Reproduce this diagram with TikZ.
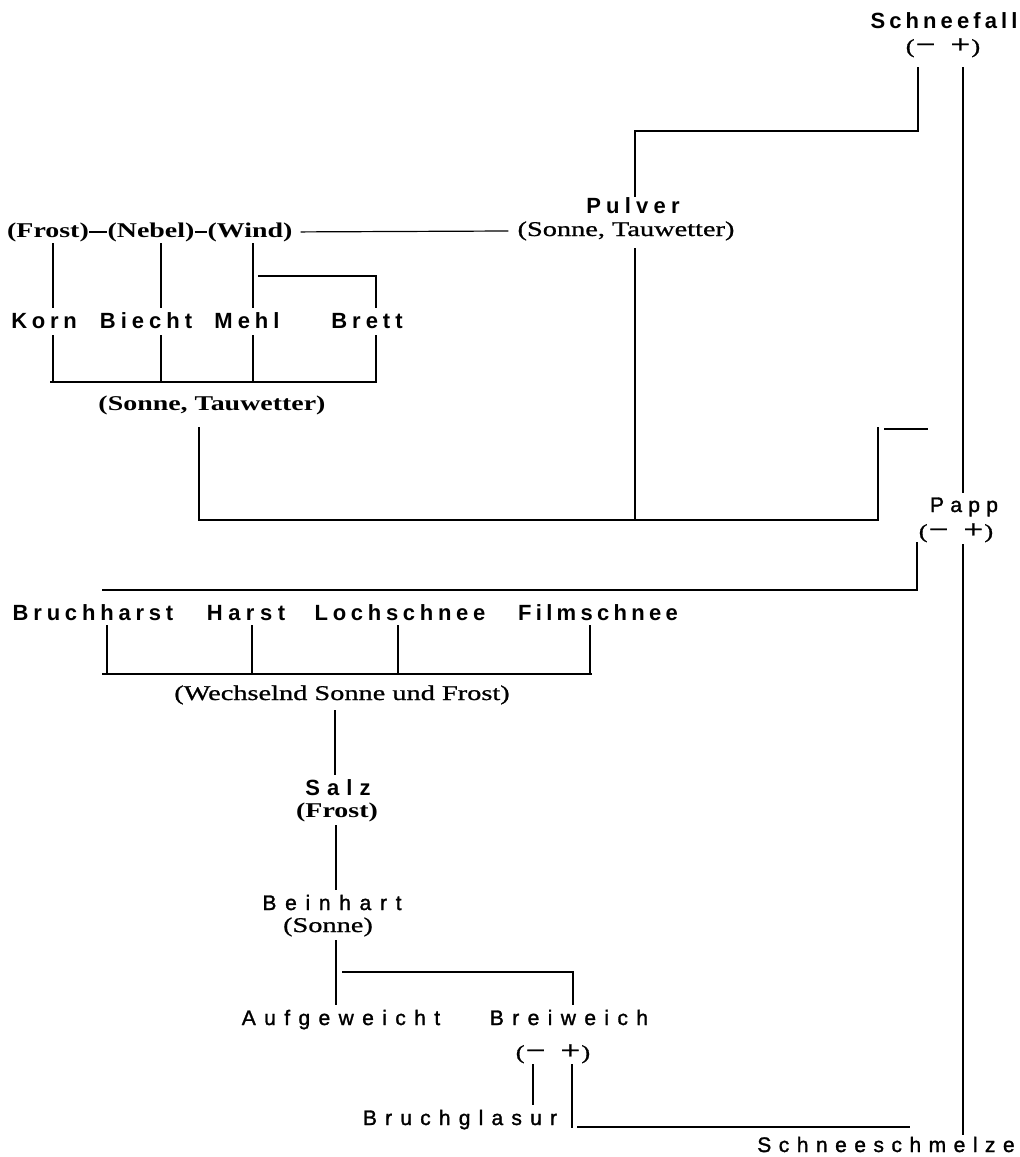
\documentclass[tikz,border=0pt]{standalone}
\usepackage{fontspec}
\setmainfont{Liberation Serif}
\newfontfamily\grot{Liberation Sans}
\newfontfamily\grotm[FakeBold=1.4]{Liberation Sans}
\newfontfamily\serifw[FakeStretch=1.35,FakeBold=0.9]{Liberation Serif}
\newfontfamily\serifb[FakeStretch=1.33]{Liberation Serif Bold}
\usetikzlibrary{calc}
\newlength\lsp
\def\spc#1#2{\setlength\lsp{#1}\spcB#2\relax}
\def\spcB#1{#1\spcA}
\def\spcA#1{\ifx#1\relax\else\kern\lsp#1\expandafter\spcA\fi}
\newcommand\mpm{{\fontsize{20}{20}\selectfont(}\kern1pt{\fontsize{26}{26}\selectfont −\kern15pt+}\kern1pt{\fontsize{20}{20}\selectfont)}}
\begin{document}
\begin{tikzpicture}[x=1pt,y=-1pt,
  gb/.style={font=\grot\bfseries\fontsize{22}{22}\selectfont, inner sep=0pt, anchor=base},
  gr/.style={font=\grotm\fontsize{21}{21}\selectfont, inner sep=0pt, anchor=base},
  sr/.style={font=\serifw\fontsize{21}{21}\selectfont, inner sep=0pt, anchor=base},
  sb/.style={font=\serifb\fontsize{21}{21}\selectfont, inner sep=0pt, anchor=base},
  ln/.style={line width=1.2pt, line cap=butt}]
\fill[white] (0,0) rectangle (1020,1157);
\useasboundingbox (0,0) rectangle (1020,1157);

% ---------- texts ----------
\node[gb] (sf) at (944,28) {\spc{4.1pt}{Schneefall}};
\node[sr] (sfpm) at (943,53) {\mpm};
\node[gb] (pulver) at (633,213) {\spc{5.2pt}{Pulver}};
\node[sr] (pulverc) at (626,236) {(Sonne, Tauwetter)};
\node[sb] (frost) at (48,237) {(Frost)};
\node[sb] (nebel) at (151,237) {(Nebel)};
\node[sb] (wind) at (250,237) {(Wind)};
\node[gb] (korn) at (44,328) {\spc{4.7pt}{Korn}};
\node[gb] (biecht) at (146,328) {\spc{5pt}{Biecht}};
\node[gb] (mehl) at (247,328) {\spc{5pt}{Mehl}};
\node[gb] (brett) at (367,328) {\spc{5pt}{Brett}};
\node[sb] (st) at (212,410) {(Sonne, Tauwetter)};
\node[gr] (papp) at (964,512) {\spc{6.3pt}{Papp}};
\node[sr] (papppm) at (956,538) {\mpm};
\node[gb] (bruchharst) at (93,620) {\spc{4.8pt}{Bruchharst}};
\node[gb] (harst) at (246,620) {\spc{5.5pt}{Harst}};
\node[gb] (lochschnee) at (400,620) {\spc{4.7pt}{Lochschnee}};
\node[gb] (filmschnee) at (598,620) {\spc{4.3pt}{Filmschnee}};
\node[sr] (wsf) at (342,700) {(Wechselnd Sonne und Frost)};
\node[gb] (salz) at (338,795) {\spc{7pt}{Salz}};
\node[sb] (salzc) at (337,817) {(Frost)};
\node[gr] (beinhart) at (332,910) {\spc{8.7pt}{Beinhart}};
\node[sr] (beinc) at (328,932) {(Sonne)};
\node[gr] (aufg) at (341,1025) {\spc{8.4pt}{Aufgeweicht}};
\node[gr] (breiw) at (569,1025) {\spc{8.4pt}{Breiweich}};
\node[sr] (breipm) at (553,1059) {\mpm};
\node[gr] (bruchgl) at (460,1125) {\spc{8.2pt}{Bruchglasur}};
\node[gr] (schm) at (886,1152) {\spc{7.5pt}{Schneeschmelze}};

% ---------- junction points ----------
\coordinate (sfm) at (918,67);
\coordinate (sfk) at (918,131);
\coordinate (pulvtop) at (635,197);
\coordinate (sfp) at (963,67);
\coordinate (pappup) at (963,493);
\coordinate (pappdn) at (963,544);
\coordinate (schmtop) at (963,1135);
\coordinate (pulvbot) at (635,248);
\coordinate (pulvk) at (635,520);
\coordinate (fr1) at (53,243);  \coordinate (fr2) at (53,308);
\coordinate (ne1) at (161,243); \coordinate (ne2) at (161,308);
\coordinate (wi1) at (253,243); \coordinate (wi2) at (253,308);
\coordinate (wib) at (258,276); \coordinate (br2) at (376,308);
\coordinate (ko3) at (53,335);  \coordinate (ko4) at (53,382);
\coordinate (bi3) at (161,335); \coordinate (bi4) at (161,382);
\coordinate (me3) at (253,335); \coordinate (me4) at (253,382);
\coordinate (br3) at (376,335); \coordinate (br4) at (376,382);
\coordinate (bl) at (50,382);   \coordinate (brr) at (377,382);
\coordinate (st1) at (199,427); \coordinate (st2) at (199,520);
\coordinate (pk1) at (878,520); \coordinate (pk2) at (878,427);
\coordinate (stub1) at (884,429); \coordinate (stub2) at (928,429);
\coordinate (pam) at (917,542); \coordinate (pak) at (917,590);
\coordinate (pal) at (102,590);
\coordinate (bh1) at (107,625); \coordinate (bh2) at (107,674);
\coordinate (ha1) at (252,625); \coordinate (ha2) at (252,674);
\coordinate (lo1) at (398,625); \coordinate (lo2) at (398,674);
\coordinate (fi1) at (590,625); \coordinate (fi2) at (590,674);
\coordinate (bot1) at (102,674); \coordinate (bot2) at (592,674);
\coordinate (ws1) at (335,710); \coordinate (ws2) at (335,775);
\coordinate (sa1) at (336,825); \coordinate (sa2) at (336,890);
\coordinate (be1) at (336,940); \coordinate (be2) at (336,1005);
\coordinate (beb) at (342,972); \coordinate (bw1) at (573,1005);
\coordinate (bm1) at (533,1064); \coordinate (bm2) at (533,1105);
\coordinate (bp1) at (572,1064); \coordinate (bp2) at (572,1128);
\coordinate (sc1) at (577,1127); \coordinate (sc2) at (910,1127);

% ---------- connectors ----------
\draw[ln] (sfm) -- (sfk) -| (pulvtop);
\draw[ln] (sfp) -- (pappup);
\draw[ln] (pappdn) -- (schmtop);
\draw[ln] (frost.east) -- (nebel.west);
\draw[ln] (nebel.east) -- (wind.west);
\draw[ln, shorten <=8pt, shorten >=9pt] (wind.east) -- (pulverc.west);
\draw[ln] (pulvbot) -- (pulvk);
\draw[ln] (fr1) -- (fr2);
\draw[ln] (ne1) -- (ne2);
\draw[ln] (wi1) -- (wi2);
\draw[ln] (wib) -| (br2);
\draw[ln] (ko3) -- (ko4);
\draw[ln] (bi3) -- (bi4);
\draw[ln] (me3) -- (me4);
\draw[ln] (br3) -- (br4);
\draw[ln] (bl) -- (brr);
\draw[ln] (st1) -- (st2) -- (pk1) -- (pk2);
\draw[ln] (stub1) -- (stub2);
\draw[ln] (pam) -- (pak) -- (pal);
\draw[ln] (bh1) -- (bh2);
\draw[ln] (ha1) -- (ha2);
\draw[ln] (lo1) -- (lo2);
\draw[ln] (fi1) -- (fi2);
\draw[ln] (bot1) -- (bot2);
\draw[ln] (ws1) -- (ws2);
\draw[ln] (sa1) -- (sa2);
\draw[ln] (be1) -- (be2);
\draw[ln] (beb) -| (bw1);
\draw[ln] (bm1) -- (bm2);
\draw[ln] (bp1) -- (bp2);
\draw[ln] (sc1) -- (sc2);
\end{tikzpicture}
\end{document}
